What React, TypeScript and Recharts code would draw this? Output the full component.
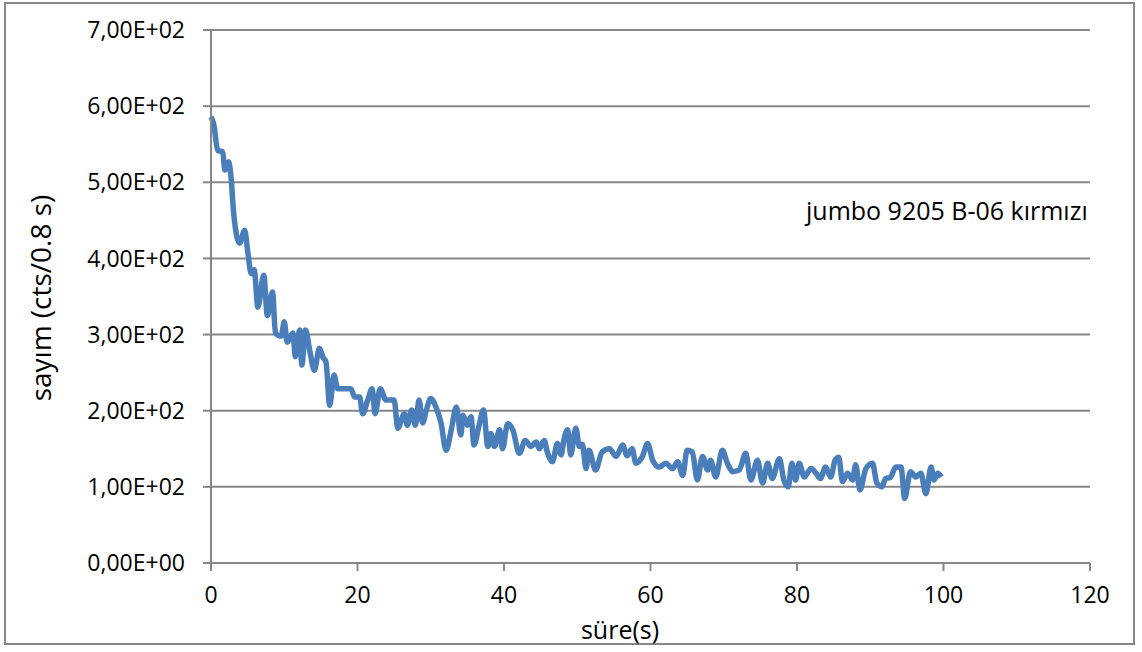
import React from 'react';
import { LineChart, Line, XAxis, YAxis, CartesianGrid } from 'recharts';

// ── Decay measurement: counts per 0.8 s over time ────────────────────────────

const timeSec = [
  0, 0.4, 0.9, 1.6, 1.9, 2.4, 2.7, 3.1, 3.9, 4.6, 5.0, 5.5, 5.9, 6.4, 7.2, 7.7,
  8.4, 8.8, 9.6, 10.0, 10.4, 11.2, 11.5, 12.1, 12.4, 12.9, 13.5, 14.1, 14.8, 15.3,
  15.7, 16.2, 16.8, 17.3, 19.1, 19.6, 20.3, 20.7, 21.4, 22.0, 22.4, 23.1, 23.9,
  25.0, 25.5, 26.4, 26.8, 27.4, 27.9, 28.4, 28.9, 29.4, 30.0, 30.7, 31.4, 32.1,
  32.8, 33.5, 34.1, 34.4, 35.0, 35.5, 35.9, 36.6, 37.2, 37.8, 38.2, 38.7, 39.4,
  39.8, 40.5, 41.2, 42.1, 42.9, 43.7, 44.4, 44.8, 45.5, 45.9, 46.6, 47.3, 47.8,
  48.2, 48.7, 49.1, 49.8, 50.3, 50.7, 51.2, 51.6, 52.5, 53.4, 54.4, 55.3, 56.2,
  56.8, 57.5, 58.0, 58.9, 59.6, 60.3, 61.2, 62.1, 63.0, 63.7, 64.4, 65.0, 65.7,
  66.4, 67.1, 67.8, 68.2, 68.9, 69.8, 70.5, 71.2, 72.1, 73.0, 73.7, 74.6, 75.3,
  76.0, 76.6, 77.6, 78.2, 78.8, 79.3, 79.8, 80.3, 81.0, 81.9, 82.6, 83.2, 83.9,
  84.6, 85.2, 85.7, 86.2, 86.9, 87.6, 88.0, 88.6, 89.4, 90.3, 90.9, 91.6, 92.1,
  92.7, 93.5, 94.2, 94.7, 95.5, 96.2, 96.9, 97.6, 98.3, 98.7, 99.2, 99.7,
];

const counts = [
  586, 575, 542, 540, 516, 527, 510, 459, 420, 437, 410, 380, 385, 336, 378, 325,
  356, 302, 298, 317, 290, 302, 271, 306, 260, 306, 278, 253, 282, 270,
  264, 207, 247, 229, 229, 218, 218, 196, 214, 229, 196, 229, 214,
  214, 177, 196, 181, 201, 181, 214, 184, 201, 216, 205, 184, 148,
  175, 205, 168, 194, 181, 192, 155, 181, 201, 153, 170, 153, 175,
  150, 183, 175, 144, 161, 153, 159, 150, 161, 146, 133, 157, 142,
  163, 175, 142, 177, 153, 156, 124, 148, 122, 146, 150, 140, 155,
  141, 150, 131, 140, 157, 135, 126, 131, 124, 133, 115, 148, 146,
  109, 140, 122, 135, 113, 148, 131, 120, 122, 144, 109, 135, 105,
  131, 111, 137, 109, 100, 131, 109, 131, 113, 124, 118, 111, 126,
  113, 135, 139, 107, 118, 109, 129, 96, 124, 131, 105, 100, 111,
  112, 126, 126, 85, 120, 113, 118, 91, 126, 109, 118, 113,
];

const xTicks = [0, 20, 40, 60, 80, 100, 120];
const yTicks = [0, 100, 200, 300, 400, 500, 600, 700];
const yTickLabels = [
  '0,00E+00', '1,00E+02', '2,00E+02', '3,00E+02',
  '4,00E+02', '5,00E+02', '6,00E+02', '7,00E+02',
];

const xTitle = 'süre(s)';
const yTitle = 'sayım (cts/0.8 s)';
const seriesName = 'jumbo 9205 B-06 kırmızı';

const FONT = '"Open Sans", "Liberation Sans", sans-serif';
const GRID = '#878787';
const LINE = '#4a7ebb';

const data = timeSec.map((t, i) => ({ t, v: counts[i] }));

const textStyle: React.CSSProperties = {
  position: 'absolute',
  fontFamily: FONT,
  fontSize: 25,
  color: '#000',
  whiteSpace: 'nowrap',
  lineHeight: 1,
};

export default function App() {
  return (
    <div style={{ position: 'absolute', left: 0, top: 0, width: 1142, height: 652, background: '#fff' }}>
      {/* chart frame */}
      <div
        style={{
          position: 'absolute',
          left: 4,
          top: 2,
          width: 1131,
          height: 643,
          border: `2px solid ${GRID}`,
          boxSizing: 'border-box',
        }}
      />
      <div style={{ position: 'absolute', left: 0, top: 0 }}>
        <LineChart
          width={1142}
          height={652}
          data={data}
          margin={{ top: 30, right: 52, bottom: 29, left: 0 }}
        >
          <CartesianGrid vertical={false} stroke={GRID} strokeWidth={2} />
          <XAxis
            type="number"
            dataKey="t"
            domain={[0, 120]}
            ticks={xTicks}
            height={60}
            interval={0}
            tick={{ fill: '#000', fontSize: 23, fontFamily: FONT }}
            tickLine={{ stroke: GRID, strokeWidth: 2 }}
            tickSize={8}
            tickMargin={16}
            axisLine={{ stroke: GRID, strokeWidth: 2 }}
          />
          <YAxis
            type="number"
            domain={[0, 700]}
            ticks={yTicks}
            width={211}
            interval={0}
            tick={{ fill: '#000', fontSize: 23, fontFamily: FONT }}
            tickFormatter={(v: number) => yTickLabels[yTicks.indexOf(v)] ?? String(v)}
            tickLine={{ stroke: GRID, strokeWidth: 2 }}
            tickSize={8}
            tickMargin={18}
            axisLine={{ stroke: GRID, strokeWidth: 2 }}
          />
          <Line
            type="monotone"
            dataKey="v"
            stroke={LINE}
            strokeWidth={5.5}
            dot={false}
            isAnimationActive={false}
          />
        </LineChart>
      </div>

      {/* axis titles and series note */}
      <div style={{ ...textStyle, left: 620, top: 629, transform: 'translate(-50%, -50%)' }}>{xTitle}</div>
      <div
        style={{
          ...textStyle,
          fontSize: 28,
          left: 40,
          top: 298,
          transform: 'translate(-50%, -50%) rotate(-90deg)',
        }}
      >
        {yTitle}
      </div>
      <div style={{ ...textStyle, left: 806, top: 198 }}>{seriesName}</div>
    </div>
  );
}
